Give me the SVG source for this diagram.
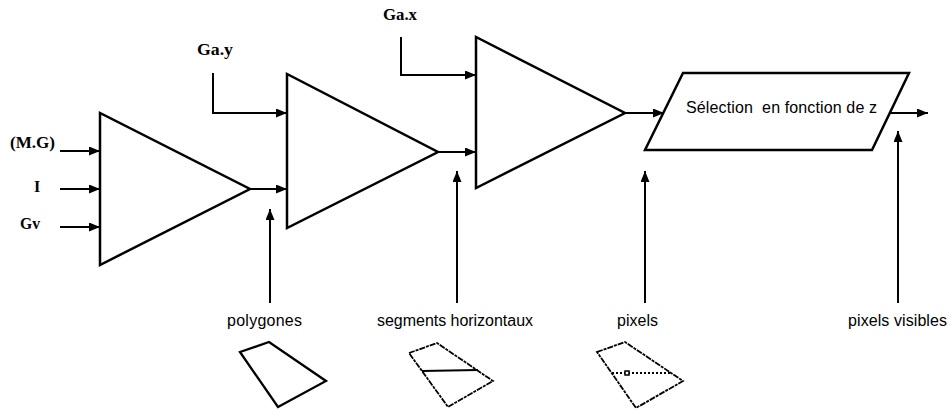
<svg xmlns="http://www.w3.org/2000/svg" width="950" height="412" viewBox="0 0 950 412">
<style>
.shape{fill:#fff;stroke:#000;stroke-width:2.5;stroke-linejoin:miter}
.wire{fill:none;stroke:#000;stroke-width:2}
.in{font-family:"Liberation Serif",serif;font-weight:bold;font-size:16px;fill:#000}
.lab{font-family:"Liberation Sans",Arial,sans-serif;font-size:16px;fill:#000}
.ragged{fill:none;stroke:#000;stroke-width:1.8;stroke-dasharray:6 1 3 1}
</style>
<defs>
<marker id="ah" viewBox="0 0 11 9" refX="11" refY="4.5" markerWidth="11" markerHeight="9" markerUnits="userSpaceOnUse" orient="auto">
<path d="M0,0 L11,4.5 L0,9 Z" fill="#000"/>
</marker>
</defs>
<rect width="950" height="412" fill="#fff"/>

<g id="inputs">
<text class="in" x="10" y="148" textLength="45" lengthAdjust="spacingAndGlyphs">(M.G)</text>
<text class="in" x="34" y="192">I</text>
<text class="in" x="20" y="229" textLength="20" lengthAdjust="spacingAndGlyphs">Gv</text>
<text class="in" x="197" y="55" textLength="36" lengthAdjust="spacingAndGlyphs">Ga.y</text>
<text class="in" x="383" y="20" textLength="34" lengthAdjust="spacingAndGlyphs">Ga.x</text>
</g>

<g id="node-stage1"><polygon class="shape" points="100,113 100,265 250,189"/></g>
<g id="node-stage2"><polygon class="shape" points="287,74 287,228 438,152"/></g>
<g id="node-stage3"><polygon class="shape" points="476,37 476,188 625,113"/></g>
<g id="node-selection">
<polygon class="shape" points="683,73 909,73 872,150 645,150"/>
<text class="lab" x="686" y="113" textLength="191" lengthAdjust="spacing" xml:space="preserve">Sélection  en fonction de z</text>
</g>

<g id="connectors">
<line class="wire" x1="60" y1="151" x2="100" y2="151" marker-end="url(#ah)"/>
<line class="wire" x1="60" y1="189" x2="100" y2="189" marker-end="url(#ah)"/>
<line class="wire" x1="60" y1="227" x2="100" y2="227" marker-end="url(#ah)"/>
<line class="wire" x1="250" y1="189" x2="287" y2="189" marker-end="url(#ah)"/>
<polyline class="wire" points="213,73 213,113 287,113" marker-end="url(#ah)"/>
<line class="wire" x1="438" y1="152" x2="476" y2="152" marker-end="url(#ah)"/>
<polyline class="wire" points="401,37 401,75 476,75" marker-end="url(#ah)"/>
<line class="wire" x1="625" y1="113" x2="664" y2="113" marker-end="url(#ah)"/>
<line class="wire" x1="890" y1="113" x2="928" y2="113" marker-end="url(#ah)"/>
<line class="wire" x1="270" y1="303" x2="270" y2="209" marker-end="url(#ah)"/>
<line class="wire" x1="457" y1="303" x2="457" y2="171" marker-end="url(#ah)"/>
<line class="wire" x1="645" y1="303" x2="645" y2="171" marker-end="url(#ah)"/>
<line class="wire" x1="898" y1="303" x2="898" y2="131" marker-end="url(#ah)"/>
</g>

<g id="node-polygones">
<text class="lab" x="227" y="326" textLength="75" lengthAdjust="spacing">polygones</text>
<polygon points="240,352 269,342 326,381 278,407" fill="none" stroke="#000" stroke-width="2.3"/>
</g>
<g id="node-segments">
<text class="lab" x="377" y="326" textLength="156" lengthAdjust="spacing">segments horizontaux</text>
<polygon class="ragged" points="409,353 437,343 493,381 448,407"/>
<line x1="422" y1="371" x2="478" y2="370" stroke="#000" stroke-width="2"/>
</g>
<g id="node-pixels">
<text class="lab" x="617" y="326" textLength="41" lengthAdjust="spacing">pixels</text>
<polygon class="ragged" points="597,352 625,342 683,381 636,408"/>
<line x1="612" y1="373" x2="672" y2="373" stroke="#000" stroke-width="1.8" stroke-dasharray="2 2"/>
<rect x="625" y="371" width="4" height="4" fill="#fff" stroke="#000" stroke-width="1.5"/>
</g>
<g id="node-visibles">
<text class="lab" x="848" y="326" textLength="99" lengthAdjust="spacing">pixels visibles</text>
</g>
</svg>
